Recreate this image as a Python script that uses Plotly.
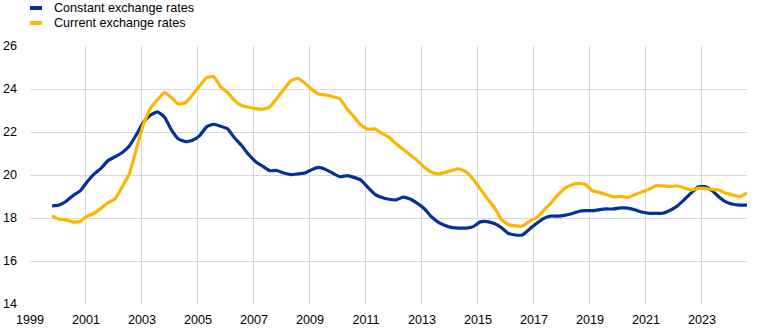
import plotly.graph_objects as go

# Quarterly observations, 1999Q4 .. 2024Q3
start_year = 1999.79
step = 0.2507

constant_rates = [
    18.56, 18.60, 18.78, 19.05, 19.26, 19.69, 20.05, 20.32, 20.68, 20.85,
    21.05, 21.35, 21.87, 22.45, 22.78, 22.94, 22.70, 22.10, 21.67, 21.55,
    21.62, 21.82, 22.24, 22.36, 22.27, 22.15, 21.72, 21.37, 20.95, 20.62,
    20.41, 20.20, 20.21, 20.09, 20.02, 20.05, 20.09, 20.25, 20.35, 20.25,
    20.08, 19.92, 19.97, 19.89, 19.76, 19.42, 19.10, 18.95, 18.87, 18.84,
    18.97, 18.88, 18.69, 18.44, 18.07, 17.81, 17.65, 17.55, 17.53, 17.53,
    17.60, 17.82, 17.83, 17.74, 17.55, 17.28, 17.21, 17.21, 17.48, 17.74,
    17.97, 18.09, 18.09, 18.12, 18.20, 18.30, 18.34, 18.34, 18.39, 18.42,
    18.42, 18.47, 18.46, 18.38, 18.28, 18.22, 18.22, 18.22, 18.35, 18.54,
    18.83, 19.15, 19.44, 19.46, 19.28, 18.98, 18.75, 18.64, 18.60, 18.60,
]

current_rates = [
    18.10, 17.94, 17.91, 17.81, 17.84, 18.09, 18.22, 18.46, 18.72, 18.90,
    19.46, 20.05, 21.20, 22.35, 23.10, 23.50, 23.83, 23.60, 23.30, 23.36,
    23.73, 24.13, 24.53, 24.58, 24.11, 23.84, 23.46, 23.23, 23.15, 23.09,
    23.06, 23.16, 23.55, 23.98, 24.38, 24.50, 24.27, 23.98, 23.77, 23.72,
    23.64, 23.55, 23.08, 22.71, 22.32, 22.13, 22.14, 21.94, 21.75, 21.45,
    21.20, 20.93, 20.68, 20.37, 20.14, 20.05, 20.12, 20.22, 20.28, 20.14,
    19.80, 19.35, 18.90, 18.50, 17.93, 17.70, 17.63, 17.63, 17.84, 18.01,
    18.34, 18.67, 19.05, 19.38, 19.54, 19.61, 19.56, 19.26, 19.19, 19.08,
    18.98, 19.01, 18.96, 19.08, 19.21, 19.33, 19.50, 19.49, 19.46, 19.50,
    19.41, 19.30, 19.38, 19.38, 19.33, 19.30, 19.15, 19.07, 19.00, 19.17,
]

x_ticks = list(range(1999, 2024, 2))
y_ticks = [14, 16, 18, 20, 22, 24, 26]

series_names = ["Constant exchange rates", "Current exchange rates"]
series_colors = ["#003299", "#FFB400"]

x = [start_year + step * i for i in range(len(constant_rates))]

fig = go.Figure()
for name, vals, col in zip(series_names, [constant_rates, current_rates], series_colors):
    fig.add_trace(go.Scatter(x=x, y=vals, mode="lines", name=name,
                             line=dict(color=col, width=3.2, shape="spline", smoothing=0.4),
                             showlegend=False))

font = dict(family="Liberation Sans, Arial, sans-serif", size=12.6, color="#000000")

fig.update_layout(
    width=766, height=330,
    margin=dict(l=30, r=19, t=46, b=26, autoexpand=False),
    paper_bgcolor="white", plot_bgcolor="white",
    font=font,
    showlegend=False,
)
fig.update_xaxes(range=[1999, 2024.61], tickvals=x_ticks, ticktext=[str(t) for t in x_ticks],
                 showgrid=True, gridcolor="#d9d9d9", gridwidth=1, zeroline=False,
                 showline=False, ticks="", ticklabelstandoff=6, tickfont=font,
                 automargin=False)
fig.update_yaxes(range=[14, 26], tickvals=y_ticks, showgrid=True, gridcolor="#d9d9d9",
                 gridwidth=1, zeroline=False, showline=False, ticks="",
                 ticklabelstandoff=12, tickfont=font, automargin=False)

# Legend drawn as swatches + text at top-left
for k, (name, col) in enumerate(zip(series_names, series_colors)):
    ypix = 8 + 15 * k
    yp = 1 + (46 - ypix) / 258
    fig.add_shape(type="line", xref="paper", yref="paper",
                  x0=0 / 717, x1=12 / 717, y0=yp, y1=yp,
                  line=dict(color=col, width=4))
    fig.add_annotation(xref="paper", yref="paper", x=22 / 717, y=yp,
                       xanchor="left", yanchor="middle", text=name,
                       showarrow=False, font=font)

fig.write_html("out.html")
